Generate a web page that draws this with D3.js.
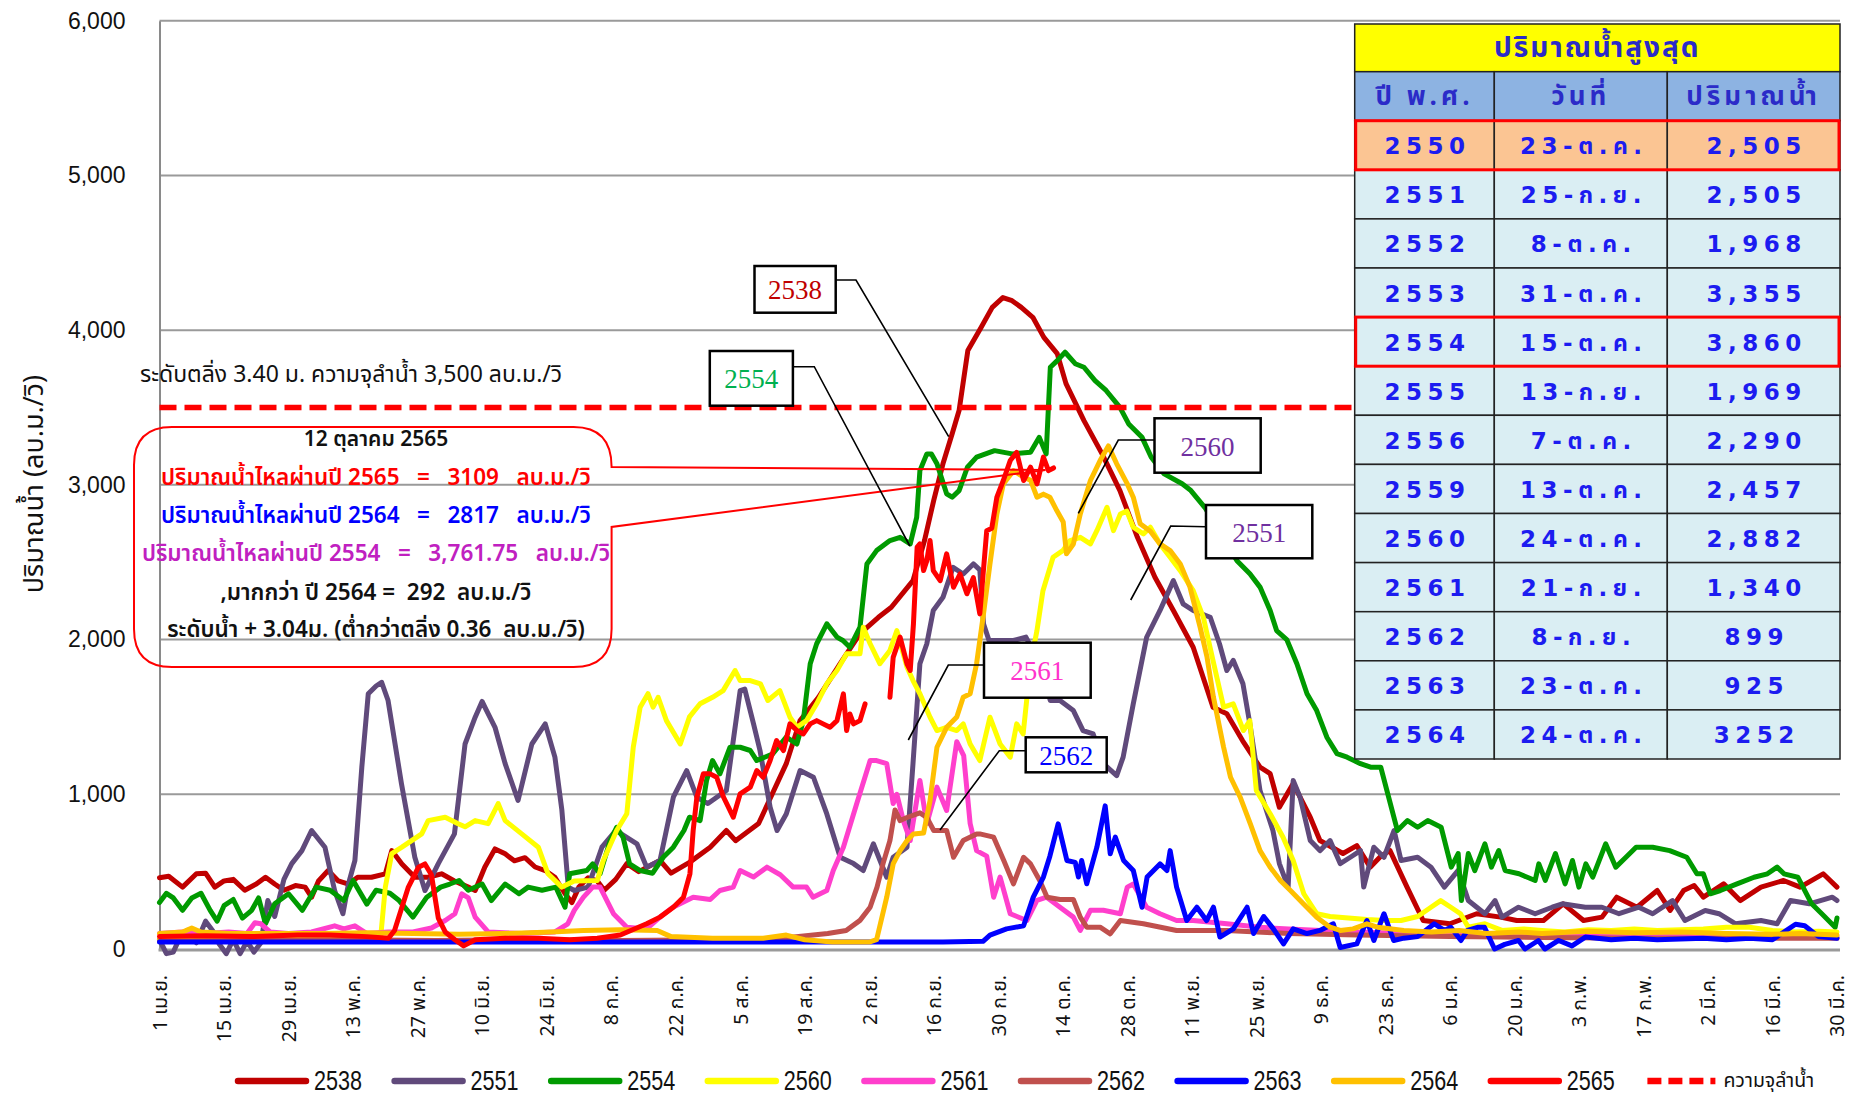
<!DOCTYPE html>
<html>
<head>
<meta charset="utf-8">
<script src="https://cdn.jsdelivr.net/npm/d3@7"></script>
<style>
  body { margin: 0; background: #fff; }
  svg { display: block; }
  text { font-family: "Liberation Sans", Arial, sans-serif; }
  .th { font-family: "Noto Sans Thai", "Tahoma", "DejaVu Sans", "Liberation Sans", sans-serif; }
  .serif { font-family: "Liberation Serif", "Times New Roman", serif; }
  .tbl { font-family: "DejaVu Sans", "Noto Sans Thai", "Liberation Sans", sans-serif; }
</style>
</head>
<body>
<svg id="chart" width="1852" height="1095"></svg>
<script>
// ---- day offsets from 1 April, tick labels ----
const tickDays = [0,14,28,42,56,70,84,98,112,126,140,154,168,182,196,210,224,238,252,266,280,294,308,322,336,350,364];
const tickLabels = ["1 เม.ย.","15 เม.ย.","29 เม.ย.","13 พ.ค.","27 พ.ค.","10 มิ.ย.","24 มิ.ย.","8 ก.ค.","22 ก.ค.","5 ส.ค.","19 ส.ค.","2 ก.ย.","16 ก.ย.","30 ก.ย.","14 ต.ค.","28 ต.ค.","11 พ.ย.","25 พ.ย.","9 ธ.ค.","23 ธ.ค.","6 ม.ค.","20 ม.ค.","3 ก.พ.","17 ก.พ.","2 มี.ค.","16 มี.ค.","30 มี.ค."];
const yTicks = [0,1000,2000,3000,4000,5000,6000];

// ---- daily discharge (m3/s), [day, value] ----
const flow2538 = [[0,460],[2,470],[5,400],[8,486],[10,490],[12,400],[14,440],[16,450],[18.5,380],[21,420],[23,464],[25,420],[27,380],[29.5,410],[31.6,400],[33,335],[34.5,440],[36.6,507],[38.8,440],[41,420],[43,464],[46,464],[49,486],[50.4,636],[52.6,550],[55.4,464],[58.3,464],[61.2,486],[64,440],[67,400],[68.5,378],[70.6,530],[72.8,647],[75,615],[77,570],[79.3,590],[81.5,530],[83.7,507],[85.8,464],[88,357],[89.5,300],[91,400],[93,460],[95,440],[96.5,380],[99,450],[101.4,552],[104,500],[108.6,572],[111,490],[115,560],[119.5,658],[123,766],[125,700],[130,811],[132,940],[136,1198],[139,1476],[143,1627],[147.7,1844],[152,2038],[156,2144],[158.8,2209],[163.5,2381],[166,2640],[168,2900],[170,3136],[172,3330],[173.5,3480],[175.4,3868],[178.3,4018],[180.7,4147],[183,4210],[185,4190],[187,4147],[189.5,4083],[191.9,3953],[194.8,3848],[196.7,3654],[200.6,3415],[204.5,3202],[208.4,2963],[212.2,2661],[216,2403],[220,2188],[224.3,1950],[228.6,1563],[231.6,1521],[235,1347],[238.8,1175],[241,1134],[243,916],[246,1069],[249.7,852],[251.8,701],[256.8,617],[259.8,668],[262.7,529],[265,600],[267,636],[270.7,400],[274.2,184],[280,163],[285.8,228],[291,206],[294.5,184],[300.3,184],[304.6,292],[309,184],[313,206],[316.2,335],[320.6,270],[325,378],[327.8,249],[330.7,378],[333,410],[335,335],[339.4,421],[343,313],[347.5,400],[352.4,443],[356,400],[361,486],[364,400]];
const flow2551 = [[0,60],[1.5,-30],[3,-20],[4.5,80],[6,120],[8,40],[10,180],[11.5,120],[13,30],[14.5,-30],[16,60],[17.5,-30],[19,50],[20.5,-20],[22,40],[23.5,313],[25,210],[27,450],[28.7,552],[30.9,636],[33,766],[35.9,658],[38,378],[39.8,228],[41,421],[42.4,572],[43.9,1175],[45.3,1650],[47,1700],[48.2,1724],[49.6,1606],[52.5,1069],[55.4,593],[57.6,378],[60.5,552],[64,744],[66.3,1325],[68.5,1498],[70,1600],[70.6,1563],[72.8,1433],[75,1198],[77.8,960],[80.8,1325],[83.7,1455],[85.8,1240],[87.3,900],[88.7,400],[90,378],[93,400],[96,658],[99,766],[103.6,680],[105.7,529],[108.6,572],[111.5,981],[114.4,1153],[116.6,981],[119,940],[123,1024],[126,1670],[127,1680],[128.9,1455],[130.3,1283],[132.5,916],[134,766],[136,873],[139,1153],[141.9,1110],[144.8,873],[147.7,593],[150.6,552],[152.7,507],[154.9,680],[157.8,464],[159.2,593],[162.2,658],[163.5,1198],[165,1844],[166.5,1973],[167.9,2188],[170,2273],[172.2,2467],[174.4,2424],[176.6,2489],[178,2450],[178.8,2102],[180,1994],[185.3,1994],[188,2016],[191,1844],[193.3,1606],[195.4,1606],[198.3,1541],[200.4,1412],[202.6,1390],[204.8,1198],[207.7,1121],[209.1,1240],[211.3,1585],[214.2,2015],[217.1,2188],[220,2381],[222.1,2231],[224.3,2188],[228,2144],[230,1973],[231.6,1800],[233,1865],[235.1,1714],[236.6,1455],[238.8,1024],[241.6,766],[243,552],[244.9,400],[246,1089],[247.5,981],[249.7,701],[251.8,636],[254,701],[256.2,552],[258.4,593],[260.6,636],[261.3,400],[263.5,658],[265.7,593],[267.9,766],[269.4,572],[273,593],[275.9,529],[278.8,400],[281.8,508],[284,313],[287.6,228],[289.8,313],[291.3,206],[294.9,270],[298.5,228],[302.2,270],[304.4,292],[309.4,270],[313,270],[316.7,228],[321,270],[324,228],[328.3,313],[331,184],[335.4,249],[338.4,228],[342,163],[347.5,184],[351,163],[353.9,313],[358,292],[363,335],[364,313]];
const flow2554 = [[0,300],[1.5,360],[3,330],[5,250],[7,330],[9,360],[11,250],[12.5,180],[14,280],[16,320],[18,200],[20,250],[21.5,330],[23,163],[25,292],[28,357],[31,250],[34,400],[37,380],[40,313],[42,443],[45,290],[47,380],[50,360],[52,313],[55,206],[58,335],[61,400],[63,420],[65,443],[67,380],[70,420],[72,313],[75,420],[78,357],[80,400],[83,380],[86,400],[88,270],[89,486],[92.7,507],[94,550],[95.6,486],[97.8,701],[99.2,787],[100.6,722],[102,550],[104.3,507],[107,490],[109.3,593],[111.5,658],[113.8,766],[115,852],[117.3,830],[118.7,1089],[120,1218],[121.6,1132],[123.8,1304],[126,1304],[128.2,1283],[129.6,1218],[133,1260],[136,1369],[138.3,1325],[139.7,1476],[141.2,1844],[142.6,1973],[144.8,2102],[147,2016],[148.3,1994],[149.8,1950],[152,2080],[153.5,2489],[155.6,2575],[158.5,2640],[160.7,2661],[162.9,2618],[164.3,2790],[165,3092],[166.5,3200],[167.5,3200],[168.7,3136],[170.8,2942],[172,2920],[173.5,2963],[175.3,3114],[177.3,3179],[181.2,3221],[185,3200],[189,3210],[190.9,3307],[192.4,3200],[193.3,3760],[194.8,3803],[196.5,3857],[198.7,3783],[200.6,3760],[203,3674],[205.4,3610],[208.4,3501],[210.3,3394],[213.2,3307],[215.2,3178],[218,3071],[221.9,3007],[223.8,2963],[226.8,2855],[230,2700],[233.8,2510],[236.6,2425],[238.8,2339],[241,2188],[242.4,2058],[244.6,2000],[246.8,1844],[249,1650],[251.1,1541],[253.3,1369],[255.5,1263],[257.7,1240],[260.6,1198],[262.8,1175],[265,1175],[268.6,766],[270.8,830],[273,787],[275.2,830],[278.1,787],[280.3,529],[281.8,617],[282.5,313],[284,617],[285.4,507],[287.6,680],[289,529],[290.6,636],[292,507],[295,486],[298.5,443],[299.3,550],[300.7,443],[302.9,617],[305,421],[306.6,572],[308,400],[309.5,550],[311,464],[313.8,680],[316,529],[318.2,593],[320.4,658],[324,658],[327.7,636],[331.4,593],[333.6,486],[335,486],[336.5,357],[338.7,378],[342.3,421],[346,464],[348.9,486],[351,529],[352.5,486],[355.5,464],[358.5,292],[360.7,228],[363.6,141],[364,200]];
const flow2560 = [[0,60],[10,70],[20,60],[30,80],[40,70],[48,80],[49,400],[50.4,617],[52.6,658],[54.7,700],[56.9,744],[58.3,830],[62,852],[64.8,810],[66.3,790],[68.5,830],[71.3,810],[73.5,940],[75,830],[78.6,744],[82.2,658],[84.3,486],[87.3,400],[90,440],[95,443],[96.3,572],[99.2,766],[101.4,874],[102.8,1304],[104.3,1563],[106,1650],[107.1,1563],[108.2,1627],[110,1476],[113,1325],[115,1500],[117.3,1585],[120,1627],[122.3,1670],[124.9,1800],[126,1735],[128.2,1735],[130.4,1714],[132,1606],[134.6,1670],[136.8,1498],[138.3,1433],[140.4,1476],[142.6,1585],[144.8,1714],[147,1800],[149.1,1908],[152,1908],[152.7,2080],[154.2,1973],[156.3,1844],[158.5,1930],[160,2058],[162.2,1822],[163.5,1735],[165,1650],[167.2,1498],[168.7,1412],[170.8,1433],[173,1412],[174.4,1455],[175.9,1325],[178,1218],[180.2,1498],[182.4,1325],[184.6,1240],[186,1455],[187.4,1390],[189,1844],[190.4,2058],[191.7,2316],[193.9,2532],[196,2575],[197.6,2640],[199.8,2661],[202,2618],[203.4,2704],[205.6,2855],[207,2704],[208.5,2812],[209.9,2830],[211.3,2726],[213.5,2683],[215,2726],[217.1,2618],[219.3,2532],[221.5,2445],[224.3,2316],[226.5,2144],[228.6,1865],[230.9,1563],[233,1585],[235.2,1412],[236.6,1476],[238,1024],[241,874],[243.8,722],[246,572],[248.3,357],[251.1,228],[254,210],[258,200],[262,190],[266,184],[269.4,184],[273,210],[275.9,270],[278,313],[280.2,270],[282.3,228],[284,141],[287.6,163],[291.3,120],[296,130],[300,120],[305,110],[310,125],[315,120],[320,130],[325,120],[330,125],[335,130],[340,141],[345,141],[350,120],[355,110],[360,115],[364,110]];
const flow2561 = [[0,100],[5,110],[10,100],[15,110],[19,100],[20.7,170],[22,163],[24,110],[28,100],[33,110],[38,150],[40,130],[42.4,150],[45,100],[49.6,110],[55,110],[59,136],[62,184],[64.1,228],[65.6,357],[67,330],[68.5,206],[71.3,110],[78.6,100],[85.8,110],[88.6,163],[90,250],[92,335],[94,400],[95.6,400],[98.5,228],[101.4,141],[105.7,130],[108.6,206],[111.4,270],[115.8,335],[119.5,320],[121.6,378],[124.5,400],[126,507],[128.9,465],[131.8,529],[134.7,480],[137.5,400],[140.4,400],[141.8,335],[144.8,378],[146.2,507],[148.4,658],[151.3,940],[154.2,1218],[155.6,1218],[157.8,1198],[159.2,940],[160,1000],[161.4,830],[162.9,701],[165,1089],[166.5,811],[168.7,1046],[170.8,895],[173,1340],[174.5,1250],[175.9,811],[177.3,636],[179.5,600],[181,335],[182.4,465],[184.6,228],[188.2,184],[190.4,314],[192.5,335],[195.4,270],[198.3,206],[199.8,120],[202,250],[204.8,250],[208.5,228],[210,400],[211.3,420],[214.2,270],[217.1,228],[220.7,184],[224.3,184],[231.6,163],[238.8,140],[245,130],[252,120],[260,110],[270,100],[280,95],[290,90],[300,90],[310,85],[320,90],[330,85],[340,90],[350,85],[364,80]];
const flow2562 = [[0,50],[20,55],[40,60],[60,55],[80,60],[100,55],[120,60],[135,70],[145,100],[149,120],[152,185],[154.2,270],[155.7,400],[157,552],[158.5,701],[159.6,899],[160.7,830],[162.2,850],[165,880],[166.5,850],[168,766],[170.8,766],[172.3,593],[174.4,701],[177.3,744],[178,744],[181,723],[183.2,572],[185.3,421],[187.5,593],[189,550],[191,443],[192.6,335],[195.4,320],[198.3,320],[199.8,206],[201.2,141],[204.1,141],[206.3,98],[208.5,184],[213.5,163],[220.7,120],[231.6,120],[245,100],[260,90],[280,80],[300,75],[320,70],[340,70],[364,70]];
const flow2563 = [[0,45],[30,45],[60,45],[90,45],[120,45],[150,45],[170,45],[178.7,50],[180.2,90],[183.8,130],[187.5,150],[189.6,335],[191.8,465],[193.2,600],[195,809],[196.9,572],[198.7,560],[199.4,465],[200.1,572],[201.2,422],[203.4,658],[205.2,925],[206.3,615],[207.4,723],[209.2,572],[211.3,508],[213.2,270],[214.3,465],[215.7,507],[217.1,550],[218.6,507],[219.3,636],[220.7,400],[222.9,184],[225.1,270],[227.2,184],[228.7,270],[230.1,77],[233,130],[236,270],[237.4,100],[239.6,210],[241.7,130],[243.9,33],[246,130],[249,100],[251.8,120],[254.7,163],[256.2,10],[259.8,33],[262,184],[263.5,55],[265.7,228],[267.8,55],[270,70],[273,80],[276.6,163],[278.8,120],[280.2,140],[282.4,55],[283.8,120],[286,140],[287.5,140],[289.7,0],[291.9,30],[294.9,55],[296.3,0],[299.2,55],[300.6,0],[303.6,55],[306.5,20],[309.4,77],[315,60],[320,70],[325,60],[330,65],[335,70],[340,60],[345,70],[350,60],[355,160],[357,150],[360,80],[364,70]];
const flow2564 = [[0,100],[5,110],[7,135],[9,110],[15,100],[25,100],[35,100],[45,105],[55,100],[65,95],[75,100],[85,110],[92,120],[100,125],[108,120],[111,80],[120,70],[131,70],[136,90],[140,60],[146,45],[150,45],[154,45],[155.6,60],[157.8,335],[159.2,550],[160.7,636],[162.2,700],[163.6,744],[165.8,750],[167.2,960],[168.7,1304],[170.8,1433],[173,1500],[174.4,1627],[175.9,1650],[177.3,1844],[178.8,2166],[180.2,2489],[181.7,2812],[183.1,3006],[185.3,3092],[187.5,3050],[189,3030],[190.4,2920],[191.8,2940],[193.2,2920],[194.7,2834],[196.1,2760],[196.8,2554],[198.3,2618],[199.8,2812],[202,3028],[204.1,3157],[205.9,3252],[207.7,3136],[210,3006],[211.3,2920],[212.8,2748],[215,2700],[217.1,2618],[219.3,2575],[221.5,2489],[223.6,2339],[225.8,2080],[227.3,1887],[228.7,1627],[230.9,1304],[232.4,1110],[234.5,981],[236.7,809],[238.8,636],[241,529],[243.2,443],[245.4,378],[248.2,292],[251.1,206],[254,141],[256.2,120],[259,130],[262,163],[264.3,141],[270,120],[276,110],[282,120],[288,100],[295,110],[300,100],[310,115],[320,105],[330,110],[340,100],[350,95],[356,100],[364,90]];
const flow2565 = [[0,80],[10,85],[20,80],[30,90],[37,90],[45,80],[49.7,70],[51,120],[54,400],[56.2,529],[57.6,550],[59,480],[60.5,200],[62,110],[64.1,60],[66,20],[68.5,60],[75,70],[82.2,70],[89,60],[95,70],[100,90],[105.7,163],[108.6,206],[111.5,270],[113.7,335],[115.1,486],[115.8,766],[116.6,981],[118,1132],[119.5,1132],[120.9,1110],[122.4,981],[124.5,852],[126,1003],[128.2,1046],[129.6,1153],[131,1110],[132.5,1218],[133.9,1347],[135.4,1283],[136.8,1455],[138.3,1412],[139.7,1390],[141.2,1455],[142.6,1476],[144,1455],[145.5,1433],[147,1476],[148.4,1649],[149.1,1412],[149.8,1519],[150.6,1455],[152,1476],[153.1,1584],[155,null],[158.5,1627],[159.2,1885],[160.7,2016],[162.2,1843],[162.9,1800],[163.6,2102],[164.4,2597],[165,2618],[165.8,2446],[166.5,2510],[167.2,2640],[167.9,2446],[169.4,2381],[170.8,2554],[172.3,2338],[173.7,2424],[175.2,2296],[176.6,2400],[178,2166],[179.5,2704],[180.6,2720],[181.7,2920],[183.1,3028],[184.6,3157],[186,3210],[187.5,3028],[189,3114],[190.4,3006],[191.8,3179],[192.9,3092],[194,3109]];
const capacity = 3500;

const seriesNames = ["2538","2551","2554","2560","2561","2562","2563","2564","2565"];
const seriesColors = ["#c00000","#604a7b","#009a00","#ffff00","#ff3fcc","#c0504d","#0000ff","#ffc000","#ff0000"];
const seriesData = [flow2538,flow2551,flow2554,flow2560,flow2561,flow2562,flow2563,flow2564,flow2565];

// peak-flow table
const tableTitle = "ปริมาณน้ำสูงสุด";
const tableHeader = ["ปี พ.ศ.","วันที่","ปริมาณน้ำ"];
const tableYears = ["2550","2551","2552","2553","2554","2555","2556","2559","2560","2561","2562","2563","2564"];
const tableDates = ["23-ต.ค.","25-ก.ย.","8-ต.ค.","31-ต.ค.","15-ต.ค.","13-ก.ย.","7-ต.ค.","13-ต.ค.","24-ต.ค.","21-ก.ย.","8-ก.ย.","23-ต.ค.","24-ต.ค."];
const tablePeaks = ["2,505","2,505","1,968","3,355","3,860","1,969","2,290","2,457","2,882","1,340","899","925","3252"];

// annotation box lines
const noteLines = [
  {t: "12 ตุลาคม 2565", c: "#111"},
  {t: "ปริมาณน้ำไหลผ่านปี 2565   =   3109   ลบ.ม./วิ", c: "#ff0000"},
  {t: "ปริมาณน้ำไหลผ่านปี 2564   =   2817   ลบ.ม./วิ", c: "#0000ff"},
  {t: "ปริมาณน้ำไหลผ่านปี 2554   =   3,761.75   ลบ.ม./วิ", c: "#c020c0"},
  {t: ",มากกว่า ปี 2564 =  292  ลบ.ม./วิ", c: "#111"},
  {t: "ระดับน้ำ + 3.04ม. (ต่ำกว่าตลิ่ง 0.36  ลบ.ม./วิ)", c: "#111"}
];

// ---------------- drawing ----------------
const svg = d3.select("#chart");
const x = d3.scaleLinear().domain([0, 364]).range([159.5, 1837]);
const y = d3.scaleLinear().domain([0, 6000]).range([949, 20.7]);
const plotRight = 1840;

// gridlines
svg.append("g").selectAll("line").data(yTicks.filter(v => v > 0)).join("line")
  .attr("x1", x(0)).attr("x2", plotRight)
  .attr("y1", d => y(d)).attr("y2", d => y(d))
  .attr("stroke", "#9a9a9a").attr("stroke-width", 2);

// y axis
const yAxis = svg.append("g").attr("transform", `translate(${x(0)},0)`)
  .call(d3.axisLeft(y).tickValues(yTicks).tickSize(0).tickPadding(34).tickFormat(d3.format(",")));
yAxis.attr("font-family", null).attr("font-size", null);
yAxis.select(".domain").attr("stroke", "#8a8a8a").attr("stroke-width", 2);
yAxis.selectAll("text").style("font-size", "23px").attr("fill", "#111");

// bottom axis line
svg.append("line").attr("x1", x(0) - 1).attr("x2", plotRight).attr("y1", y(0) + 1).attr("y2", y(0) + 1)
  .attr("stroke", "#9a9a9a").attr("stroke-width", 3);

// x tick labels (rotated)
const xAxis = svg.append("g").attr("transform", `translate(0,${y(0)})`)
  .call(d3.axisBottom(x).tickValues(tickDays).tickSize(0).tickFormat((d, i) => tickLabels[i]));
xAxis.attr("font-family", null).attr("font-size", null);
xAxis.select(".domain").remove();
xAxis.selectAll("text")
  .attr("class", "th")
  .style("font-size", "19.5px").attr("fill", "#111")
  .attr("text-anchor", "end")
  .attr("dy", "0.35em").attr("y", 0)
  .attr("transform", "translate(0,26) rotate(-90)");

// y title
svg.append("text").attr("class", "th")
  .attr("transform", "translate(34,484) rotate(-90)")
  .attr("text-anchor", "middle").attr("dominant-baseline", "central")
  .style("font-size", "27px").attr("fill", "#111")
  .text("ปริมาณน้ำ (ลบ.ม./วิ)");

// series lines
const line = d3.line().defined(d => d[1] !== null).x(d => x(d[0])).y(d => y(d[1]));
svg.append("g").selectAll("path").data(seriesData).join("path")
  .attr("d", line).attr("fill", "none")
  .attr("stroke", (d, i) => seriesColors[i]).attr("stroke-width", 5)
  .attr("stroke-linejoin", "round").attr("stroke-linecap", "round");

// bank-full capacity line
svg.append("line").attr("x1", x(0)).attr("x2", plotRight)
  .attr("y1", y(capacity)).attr("y2", y(capacity))
  .attr("stroke", "#ff0000").attr("stroke-width", 5.5).attr("stroke-dasharray", "17,8");
svg.append("text").attr("class", "th")
  .attr("x", 140).attr("y", 375).attr("dominant-baseline", "central")
  .style("font-size", "23px").attr("fill", "#111")
  .text("ระดับตลิ่ง 3.40 ม. ความจุลำน้ำ 3,500 ลบ.ม./วิ");

// annotation callout
const last2565 = flow2565[flow2565.length - 1];
const tipX = x(last2565[0]) - 8, tipY = y(last2565[1]) + 2;
const bx0 = 134, by0 = 427, bx1 = 611.6, by1 = 667, r = 38;
const callout = d3.path();
callout.moveTo(bx0 + r, by0);
callout.lineTo(bx1 - r, by0);
callout.quadraticCurveTo(bx1, by0, bx1, by0 + 40);
callout.lineTo(tipX, tipY);
callout.lineTo(bx1, 527);
callout.lineTo(bx1, by1 - r);
callout.quadraticCurveTo(bx1, by1, bx1 - r, by1);
callout.lineTo(bx0 + r, by1);
callout.quadraticCurveTo(bx0, by1, bx0, by1 - r);
callout.lineTo(bx0, by0 + r);
callout.quadraticCurveTo(bx0, by0, bx0 + r, by0);
callout.closePath();
svg.append("path").attr("d", callout.toString())
  .attr("fill", "none").attr("stroke", "#ff0000").attr("stroke-width", 2);

const noteY = [439, 477.7, 515.7, 554, 592.7, 630];
svg.append("g").selectAll("text").data(noteLines).join("text")
  .attr("class", "th")
  .attr("x", 376).attr("y", (d, i) => noteY[i])
  .attr("text-anchor", "middle").attr("dominant-baseline", "central")
  .style("font-size", (d, i) => i === 0 ? "21px" : "22.5px").attr("font-weight", 600)
  .attr("fill", d => d.c).style("white-space", "pre")
  .text(d => d.t);

// year label boxes with leaders
const yearTags = [
  {t: "2538", c: "#c00000", box: [754.5, 266, 835.7, 312.7], lead: [[835.7, 280], [856, 280], [948.7, 436.7]]},
  {t: "2554", c: "#00b050", box: [709.8, 351, 792.9, 405.7], lead: [[792.9, 366.7], [814.3, 366.7], [909.8, 546]]},
  {t: "2560", c: "#7030a0", box: [1154.5, 418.3, 1260.7, 472.7], lead: [[1154.5, 440], [1118.3, 440], [1078.3, 513.3]]},
  {t: "2551", c: "#7030a0", box: [1206, 505, 1312.3, 558.3], lead: [[1206, 526.7], [1170.7, 526], [1130.7, 600]]},
  {t: "2561", c: "#ff33cc", box: [984, 642.7, 1090.7, 697.7], lead: [[984, 665], [948.3, 665], [908.3, 740]]},
  {t: "2562", c: "#0000ff", box: [1025.7, 737.3, 1106.7, 772.3], lead: [[1025.7, 750.7], [999.3, 750.7], [940, 830]]}
];
const tagG = svg.append("g");
yearTags.forEach(tg => {
  tagG.append("path").attr("d", d3.line()(tg.lead)).attr("fill", "none")
    .attr("stroke", "#000").attr("stroke-width", 1.6);
  tagG.append("rect").attr("x", tg.box[0]).attr("y", tg.box[1])
    .attr("width", tg.box[2] - tg.box[0]).attr("height", tg.box[3] - tg.box[1])
    .attr("fill", "#fff").attr("stroke", "#000").attr("stroke-width", 2.5);
  tagG.append("text").attr("class", "serif")
    .attr("x", (tg.box[0] + tg.box[2]) / 2).attr("y", (tg.box[1] + tg.box[3]) / 2 + 1)
    .attr("text-anchor", "middle").attr("dominant-baseline", "central")
    .style("font-size", "27px").attr("fill", tg.c).text(tg.t);
});

// legend
const legendItems = seriesNames.map((n, i) => ({n, c: seriesColors[i], dash: null}))
  .concat([{n: "ความจุลำน้ำ", c: "#ff0000", dash: "14,7"}]);
const lg = svg.append("g").selectAll("g").data(legendItems).join("g")
  .attr("transform", (d, i) => `translate(${238 + i * 156.6},1081)`);
lg.append("line").attr("x1", 0).attr("x2", 68).attr("y1", 0).attr("y2", 0)
  .attr("stroke", d => d.c).attr("stroke-width", 6.5)
  .attr("stroke-linecap", d => d.dash ? "butt" : "round")
  .attr("stroke-dasharray", d => d.dash);
lg.append("text")
  .attr("class", d => d.dash ? "th" : null)
  .attr("transform", d => d.dash ? "translate(76,0)" : "translate(76,0) scale(0.8,1)")
  .attr("dominant-baseline", "central")
  .style("font-size", d => d.dash ? "19.5px" : "27px").attr("fill", "#111")
  .text(d => d.n);

// peak-flow table
const colX = [1354.7, 1494.3, 1667.3, 1840];
const tTop = 24, titleH = 47.7, headH = 49, rowH = 49.1;
const tbl = svg.append("g");
tbl.append("rect").attr("x", colX[0]).attr("y", tTop).attr("width", colX[3] - colX[0]).attr("height", titleH)
  .attr("fill", "#ffff00").attr("stroke", "#222").attr("stroke-width", 1.5);
tbl.append("text").attr("class", "th").attr("x", (colX[0] + colX[3]) / 2).attr("y", tTop + titleH / 2 + 1)
  .attr("text-anchor", "middle").attr("dominant-baseline", "central")
  .style("font-size", "28px").attr("font-weight", "bold").attr("fill", "#2b2bc8")
  .attr("letter-spacing", 2).text(tableTitle);
const headY = tTop + titleH;
tableHeader.forEach((h, j) => {
  tbl.append("rect").attr("x", colX[j]).attr("y", headY).attr("width", colX[j + 1] - colX[j]).attr("height", headH)
    .attr("fill", "#8db3e2").attr("stroke", "#222").attr("stroke-width", 1.5);
  tbl.append("text").attr("class", "th").attr("x", (colX[j] + colX[j + 1]) / 2).attr("y", headY + headH / 2 + 1)
    .attr("text-anchor", "middle").attr("dominant-baseline", "central")
    .style("font-size", "26px").attr("font-weight", "bold").attr("fill", "#2b2bc8")
    .attr("letter-spacing", 4).text(h);
});
const rowsY = headY + headH;
const highlight = ["2550", "2554"];
tableYears.forEach((yr, i) => {
  const ry = rowsY + i * rowH;
  const cells = [yr, tableDates[i], tablePeaks[i]];
  cells.forEach((v, j) => {
    tbl.append("rect").attr("x", colX[j]).attr("y", ry).attr("width", colX[j + 1] - colX[j]).attr("height", rowH)
      .attr("fill", yr === "2550" ? "#fbc593" : "#daeef3").attr("stroke", "#222").attr("stroke-width", 1.5);
    tbl.append("text").attr("class", "tbl")
      .attr("x", (colX[j] + colX[j + 1]) / 2 + 3).attr("y", ry + rowH / 2 + 1)
      .attr("text-anchor", "middle").attr("dominant-baseline", "central")
      .style("font-size", "23px").attr("font-weight", "bold").attr("fill", "#1c1cf0")
      .attr("letter-spacing", 5.5).text(v);
  });
});
tableYears.forEach((yr, i) => {
  if (highlight.includes(yr)) {
    tbl.append("rect").attr("x", colX[0] + 1).attr("y", rowsY + i * rowH)
      .attr("width", colX[3] - colX[0] - 2).attr("height", rowH)
      .attr("fill", "none").attr("stroke", "#ff0000").attr("stroke-width", 3);
  }
});
</script>
</body>
</html>
